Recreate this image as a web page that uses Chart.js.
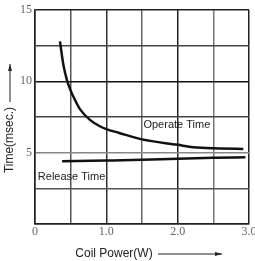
<!DOCTYPE html>
<html>
<head>
<meta charset="utf-8">
<script src="https://cdn.jsdelivr.net/npm/chart.js@4"></script>
<style>
  html, body { margin: 0; padding: 0; background: #fff; }
  #wrap { width: 255px; height: 261px; }
</style>
</head>
<body>
<div id="wrap"><canvas id="relayChart" width="255" height="261"></canvas></div>
<script>
const operatePower = [0.35, 0.40, 0.45, 0.50, 0.56, 0.63, 0.77, 0.91, 1.0, 1.17, 1.5, 2.0, 2.22, 2.6, 2.92];
const operateTime = [12.8, 11.1, 10.05, 9.35, 8.7, 8.05, 7.3, 6.85, 6.65, 6.4, 5.93, 5.55, 5.38, 5.3, 5.25];
const releasePower = [0.38, 1.0, 1.5, 2.0, 2.5, 2.95];
const releaseTime = [4.4, 4.45, 4.5, 4.58, 4.64, 4.67];

const xLabels = { 0: "0", 1: "1.0", 2: "2.0", 3: "3.0" };
const yLabels = { 5: "5", 10: "10", 15: "15" };

// scanned original has uneven grid lines, copy the shades roughly
const xGridShade = { 0: "#222", 0.5: "#555", 1: "#333", 1.5: "#666", 2: "#222", 2.5: "#777", 3: "#222" };
const yGridShade = { 0: "#222", 2.5: "#555", 5: "#888", 7.5: "#444", 10: "#111", 12.5: "#444", 15: "#222" };

function toPoints(xs, ys) {
    return xs.map((x, i) => ({ x: x, y: ys[i] }));
}

const sans = "'Liberation Sans', Arial, sans-serif";
const serif = "'Liberation Serif', 'Times New Roman', serif";

function arrow(ctx, x1, y1, x2, y2) {
    ctx.beginPath();
    ctx.moveTo(x1, y1);
    ctx.lineTo(x2, y2);
    ctx.stroke();
    const a = Math.atan2(y2 - y1, x2 - x1);
    ctx.beginPath();
    ctx.moveTo(x2, y2);
    ctx.lineTo(x2 - 7 * Math.cos(a) + 2 * Math.sin(a), y2 - 7 * Math.sin(a) - 2 * Math.cos(a));
    ctx.lineTo(x2 - 7 * Math.cos(a) - 2 * Math.sin(a), y2 - 7 * Math.sin(a) + 2 * Math.cos(a));
    ctx.closePath();
    ctx.fill();
}

const labelsPlugin = {
    id: "labelsPlugin",
    afterDraw(chart) {
        const ctx = chart.ctx;
        const x = chart.scales.x, y = chart.scales.y;
        ctx.save();
        ctx.fillStyle = "#222";
        ctx.strokeStyle = "#222";
        ctx.lineWidth = 1;
        ctx.font = "11px " + sans;
        ctx.textBaseline = "middle";
        ctx.textAlign = "left";
        ctx.fillText("Operate Time", x.getPixelForValue(1.52), y.getPixelForValue(6.95));
        ctx.fillText("Release Time", x.getPixelForValue(0.04), y.getPixelForValue(3.3));

        ctx.font = "12px " + sans;
        ctx.textAlign = "center";
        ctx.fillText("Coil Power(W)", 114, 254);
        arrow(ctx, 158, 254, 222, 254);

        ctx.save();
        ctx.translate(10, 140);
        ctx.rotate(-Math.PI / 2);
        ctx.fillText("Time(msec.)", 0, 0);
        ctx.restore();
        arrow(ctx, 10, 102, 10, 64);
        ctx.restore();
    }
};

new Chart(document.getElementById("relayChart"), {
    type: "scatter",
    data: {
        datasets: [
            {
                label: "Operate Time",
                data: toPoints(operatePower, operateTime),
                showLine: true,
                borderColor: "#111",
                borderWidth: 2.5,
                pointRadius: 0,
                cubicInterpolationMode: "monotone"
            },
            {
                label: "Release Time",
                data: toPoints(releasePower, releaseTime),
                showLine: true,
                borderColor: "#111",
                borderWidth: 2.5,
                pointRadius: 0,
                cubicInterpolationMode: "monotone"
            }
        ]
    },
    options: {
        responsive: false,
        animation: false,
        layout: { padding: { top: 10, right: 6, left: 0, bottom: 0 } },
        plugins: { legend: { display: false }, tooltip: { enabled: false } },
        scales: {
            x: {
                type: "linear",
                min: 0,
                max: 3,
                ticks: {
                    stepSize: 0.5,
                    autoSkip: false,
                    maxRotation: 0,
                    padding: 1,
                    color: "#666",
                    font: { family: serif, size: 12 },
                    callback: v => xLabels[v] || ""
                },
                grid: {
                    drawTicks: false,
                    lineWidth: 1.5,
                    color: c => xGridShade[c.tick ? c.tick.value : 0] || "#555"
                },
                border: { display: true, color: "#222", width: 1.5 },
                afterFit: s => { s.height = 37; s.paddingLeft = 0; s.paddingRight = 0; }
            },
            y: {
                min: 0,
                max: 15,
                ticks: {
                    stepSize: 2.5,
                    autoSkip: false,
                    padding: 3,
                    color: "#666",
                    font: { family: serif, size: 12 },
                    callback: v => yLabels[v] || ""
                },
                grid: {
                    drawTicks: false,
                    lineWidth: 1.5,
                    color: c => yGridShade[c.tick ? c.tick.value : 0] || "#555"
                },
                border: { display: true, color: "#222", width: 1.5 },
                afterFit: s => { s.width = 35; s.paddingTop = 0; s.paddingBottom = 0; }
            }
        }
    },
    plugins: [labelsPlugin]
});
</script>
</body>
</html>
